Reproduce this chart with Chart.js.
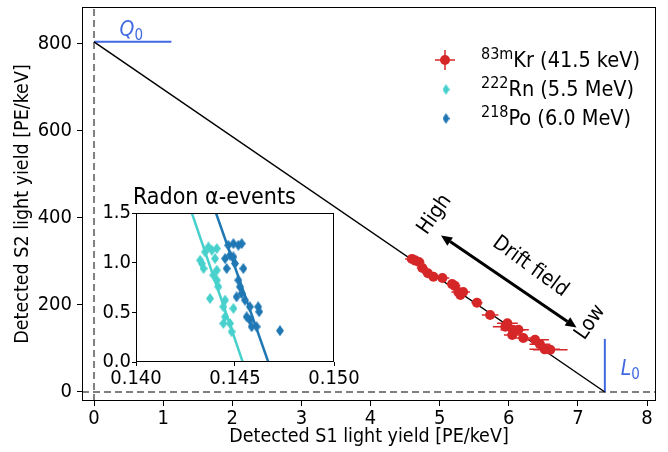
<!DOCTYPE html>
<html>
<head>
<meta charset="utf-8">
<script src="https://cdn.jsdelivr.net/npm/chart.js@4/dist/chart.umd.min.js"></script>
<style>
  body { margin: 0; background: #fff; }
  #wrap { position: relative; width: 668px; height: 452px; }
  canvas { position: absolute; }
</style>
</head>
<body>
<div id="wrap">
  <canvas id="main" width="668" height="452" style="left:0;top:0"></canvas>
  <canvas id="inset" width="290" height="210" style="left:90px;top:180px"></canvas>
</div>
<script>
// 83mKr points (S1, S2 light yield) with error bars
const krS1 = [4.60, 4.65, 4.70, 4.75, 4.83, 4.91, 5.04, 5.18, 5.22, 5.27, 5.30, 5.34, 5.54, 5.73, 5.95, 5.98, 6.06, 6.14, 6.05, 6.21, 6.38, 6.45, 6.52, 6.60];
const krS2 = [306, 302, 299, 285, 273, 265, 262, 248, 244, 230, 223, 230, 205, 177, 150, 158, 143, 143, 131, 124, 120, 110, 98, 97];
const krS1Err = [0.10, 0.12, 0.08, 0.08, 0.08, 0.08, 0.10, 0.08, 0.08, 0.10, 0.08, 0.10, 0.08, 0.12, 0.18, 0.15, 0.18, 0.15, 0.12, 0.12, 0.20, 0.15, 0.22, 0.25];
const krS2Err = [8, 8, 6, 6, 6, 6, 6, 6, 8, 8, 6, 6, 6, 6, 8, 8, 8, 8, 6, 6, 6, 8, 6, 6];

// radon alpha events (inset)
const rnS1 = [0.14324, 0.14341, 0.14349, 0.14366, 0.14383, 0.14408, 0.14399, 0.14408, 0.14391, 0.14408, 0.14416, 0.14374, 0.14450, 0.14441, 0.14492, 0.14450, 0.14441, 0.14475, 0.14483, 0.14333];
const rnS2 = [1.024, 0.941, 1.108, 1.158, 1.125, 1.142, 1.041, 0.924, 0.874, 0.824, 0.757, 0.639, 0.623, 0.556, 0.539, 0.455, 0.388, 0.388, 0.305, 0.990];
const poS1 = [0.14450, 0.14458, 0.14475, 0.14466, 0.14492, 0.14517, 0.14534, 0.14542, 0.14517, 0.14525, 0.14534, 0.14508, 0.14550, 0.14575, 0.14559, 0.14575, 0.14617, 0.14622, 0.14584, 0.14609, 0.14727, 0.14492, 0.14500];
const poS2 = [1.041, 0.941, 1.075, 1.175, 1.192, 1.175, 1.192, 0.941, 0.824, 0.757, 0.690, 0.656, 0.623, 0.556, 0.455, 0.422, 0.556, 0.506, 0.355, 0.355, 0.315, 1.058, 0.991];
const rnFitS1 = [0.14282, 0.14539];
const rnFitS2 = [1.5, 0];
const poFitS1 = [0.14404, 0.14668];
const poFitS2 = [1.5, 0];

// intercepts
const Q0 = 805;
const L0 = 7.39;

// ticks
const xTicks = [0, 1, 2, 3, 4, 5, 6, 7, 8];
const yTicks = [0, 200, 400, 600, 800];
const insetXTicks = [0.140, 0.145, 0.150];
const insetYTicks = [0.0, 0.5, 1.0, 1.5];

const FONT = "'DejaVu Sans Condensed', 'DejaVu Sans', sans-serif";
const RED = '#d62728';
const TURQ = '#48d1cc';
const PO_BLUE = '#1f77b4';
const ROYAL = '#4169e1';
const GREY = '#808080';

const pts = (xs, ys) => xs.map((v, i) => ({ x: v, y: ys[i] }));

function diamond(color, w, h) {
  const c = document.createElement('canvas');
  c.width = w; c.height = h;
  const g = c.getContext('2d');
  g.fillStyle = color;
  g.beginPath();
  g.moveTo(w / 2, 0); g.lineTo(w, h / 2); g.lineTo(w / 2, h); g.lineTo(0, h / 2);
  g.closePath(); g.fill();
  return c;
}

function axis(min, max, ticks, fmt, tickLen, pad) {
  return {
    type: 'linear', min, max,
    afterBuildTicks: s => { s.ticks = ticks.map(v => ({ value: v })); },
    ticks: { color: '#000', font: { family: FONT, size: 20 }, padding: pad, callback: fmt, maxRotation: 0 },
    grid: { drawOnChartArea: false, drawTicks: true, tickLength: tickLen, color: '#000', tickWidth: 1 },
    border: { display: false }
  };
}

// error bars for the Kr points
const errorBars = {
  id: 'errorBars',
  beforeDatasetDraw(chart, args) {
    const ds = chart.data.datasets[args.index];
    if (!ds.xErr) return;
    const { ctx, scales: { x, y } } = chart;
    ctx.save();
    ctx.strokeStyle = ds.borderColor;
    ctx.lineWidth = 1.5;
    ds.data.forEach((p, i) => {
      const px = x.getPixelForValue(p.x), py = y.getPixelForValue(p.y);
      ctx.beginPath();
      ctx.moveTo(x.getPixelForValue(p.x - ds.xErr[i]), py);
      ctx.lineTo(x.getPixelForValue(p.x + ds.xErr[i]), py);
      ctx.moveTo(px, y.getPixelForValue(p.y - ds.yErr[i]));
      ctx.lineTo(px, y.getPixelForValue(p.y + ds.yErr[i]));
      ctx.stroke();
    });
    ctx.restore();
  }
};

function frame(chart) {
  const { ctx, chartArea: a } = chart;
  ctx.save();
  ctx.strokeStyle = '#000';
  ctx.lineWidth = 1;
  ctx.strokeRect(a.left + 0.5, a.top + 0.5, a.right - a.left - 1, a.bottom - a.top - 1);
  ctx.restore();
}

function rotText(ctx, txt, x, y, deg, size) {
  ctx.save();
  ctx.translate(x, y);
  ctx.rotate(deg * Math.PI / 180);
  ctx.font = size + 'px ' + FONT;
  ctx.textAlign = 'center';
  ctx.textBaseline = 'middle';
  ctx.fillText(txt, 0, 0);
  ctx.restore();
}

function subSym(ctx, sym, x, y, color) {
  ctx.save();
  ctx.fillStyle = color;
  ctx.textBaseline = 'alphabetic';
  ctx.font = 'italic 21px ' + FONT;
  ctx.fillText(sym, x, y);
  const w = ctx.measureText(sym).width;
  ctx.font = '15px ' + FONT;
  ctx.fillText('0', x + w, y + 4);
  ctx.restore();
}

function supLabel(ctx, sup, main, x, y) {
  ctx.save();
  ctx.fillStyle = '#000';
  ctx.textBaseline = 'alphabetic';
  ctx.font = '16px ' + FONT;
  ctx.fillText(sup, x, y - 8);
  const w = ctx.measureText(sup).width;
  ctx.font = '21.5px ' + FONT;
  ctx.fillText(main, x + w, y);
  ctx.restore();
}

const annotations = {
  id: 'annotations',
  afterDraw(chart) {
    const { ctx, scales: { x, y } } = chart;
    frame(chart);

    // drift field arrow
    const ax1 = x.getPixelForValue(5.02), ay1 = y.getPixelForValue(360);
    const ax2 = x.getPixelForValue(6.98), ay2 = y.getPixelForValue(148);
    const ang = Math.atan2(ay2 - ay1, ax2 - ax1);
    const head = 11, hw = 5;
    ctx.save();
    ctx.strokeStyle = '#000';
    ctx.fillStyle = '#000';
    ctx.lineWidth = 3;
    ctx.beginPath();
    ctx.moveTo(ax1 + Math.cos(ang) * head, ay1 + Math.sin(ang) * head);
    ctx.lineTo(ax2 - Math.cos(ang) * head, ay2 - Math.sin(ang) * head);
    ctx.stroke();
    [[ax1, ay1, ang], [ax2, ay2, ang + Math.PI]].forEach(([tx, ty, a]) => {
      ctx.beginPath();
      ctx.moveTo(tx, ty);
      ctx.lineTo(tx + Math.cos(a) * head - Math.sin(a) * hw, ty + Math.sin(a) * head + Math.cos(a) * hw);
      ctx.lineTo(tx + Math.cos(a) * head + Math.sin(a) * hw, ty + Math.sin(a) * head - Math.cos(a) * hw);
      ctx.closePath();
      ctx.fill();
    });
    ctx.restore();

    ctx.fillStyle = '#000';
    rotText(ctx, 'High', x.getPixelForValue(4.93), y.getPixelForValue(408), -55, 21);
    rotText(ctx, 'Drift field', x.getPixelForValue(6.31), y.getPixelForValue(288), 36, 21);
    rotText(ctx, 'Low', x.getPixelForValue(7.18), y.getPixelForValue(160), -55, 21);

    // Q0 / L0 labels
    subSym(ctx, 'Q', x.getPixelForValue(0.37), y.getPixelForValue(818), ROYAL);
    subSym(ctx, 'L', x.getPixelForValue(7.62), y.getPixelForValue(39), ROYAL);

    // legend
    ctx.save();
    ctx.strokeStyle = RED;
    ctx.fillStyle = RED;
    ctx.lineWidth = 1.5;
    ctx.beginPath();
    ctx.moveTo(435, 60); ctx.lineTo(455, 60);
    ctx.moveTo(445, 50); ctx.lineTo(445, 70);
    ctx.stroke();
    ctx.beginPath();
    ctx.arc(445, 60, 5, 0, Math.PI * 2);
    ctx.fill();
    ctx.drawImage(diamond(TURQ, 7, 11), 442.5, 84);
    ctx.drawImage(diamond(PO_BLUE, 7, 11), 442.5, 113);
    ctx.restore();
    supLabel(ctx, '83m', 'Kr (41.5 keV)', 481, 67);
    supLabel(ctx, '222', 'Rn (5.5 MeV)', 481, 96);
    supLabel(ctx, '218', 'Po (6.0 MeV)', 481, 125);
  }
};

const whiteBg = {
  id: 'whiteBg',
  beforeDraw(chart) {
    const { ctx, chartArea: a } = chart;
    ctx.save();
    ctx.fillStyle = '#fff';
    if (chart.canvas.id === 'main') ctx.fillRect(0, 0, chart.width, chart.height);
    else ctx.fillRect(a.left, a.top, a.right - a.left, a.bottom - a.top);
    ctx.restore();
  }
};

const lineDs = (data, color, width, order, dash) => ({
  data, showLine: true, borderColor: color, borderWidth: width,
  pointRadius: 0, borderDash: dash || [], order, tension: 0
});

const mainX = axis(-0.174, 8.13, xTicks, v => String(v), 5, 1);
mainX.title = { display: true, text: 'Detected S1 light yield [PE/keV]', color: '#000', font: { family: FONT, size: 19.5 }, padding: { top: 0, bottom: 3 } };
mainX.afterFit = s => { s.height = 51; s.paddingLeft = 0; s.paddingRight = 0; };
const mainY = axis(-20.7, 885, yTicks, v => String(v), 5, 5);
mainY.title = { display: true, text: 'Detected S2 light yield [PE/keV]', color: '#000', font: { family: FONT, size: 19.5 }, padding: { top: 11, bottom: 0 } };
mainY.afterFit = s => { s.width = 82; s.paddingTop = 0; s.paddingBottom = 0; };

new Chart(document.getElementById('main'), {
  type: 'scatter',
  data: {
    datasets: [
      {
        data: pts(krS1, krS2), xErr: krS1Err, yErr: krS2Err,
        backgroundColor: RED, borderColor: RED, pointRadius: 5, pointBorderWidth: 0, order: 0
      },
      lineDs([{ x: 0, y: Q0 }, { x: L0, y: 0 }], '#000', 1.5, 1),
      lineDs([{ x: 0, y: Q0 }, { x: 1.12, y: Q0 }], ROYAL, 2, 2),
      lineDs([{ x: L0, y: 0 }, { x: L0, y: 122 }], ROYAL, 2, 2),
      lineDs([{ x: 0, y: -20.7 }, { x: 0, y: 885 }], GREY, 2, 3, [7, 4]),
      lineDs([{ x: -0.174, y: 0 }, { x: 8.13, y: 0 }], GREY, 2, 3, [7, 4])
    ]
  },
  options: {
    responsive: false,
    animation: false,
    layout: { padding: { top: 7, right: 12, left: 0, bottom: 0 } },
    plugins: { legend: { display: false }, tooltip: { enabled: false } },
    scales: { x: mainX, y: mainY }
  },
  plugins: [whiteBg, errorBars, annotations]
});

// inset: radon alpha events
const insetExtras = {
  id: 'insetExtras',
  afterDraw(chart) {
    const { ctx, chartArea: a } = chart;
    frame(chart);
    ctx.save();
    ctx.fillStyle = '#000';
    ctx.font = '23px ' + FONT;
    ctx.textBaseline = 'alphabetic';
    ctx.fillText('Radon α-events', a.left - 3, a.top - 9);
    ctx.restore();
  }
};

const insetX = axis(0.140, 0.150, insetXTicks, v => v.toFixed(3), 4, 1);
insetX.afterFit = s => { s.height = 28; s.paddingLeft = 0; s.paddingRight = 0; };
const insetY = axis(0, 1.5, insetYTicks, v => v.toFixed(1), 4, 1);
insetY.afterFit = s => { s.width = 46; s.paddingTop = 0; s.paddingBottom = 0; };

new Chart(document.getElementById('inset'), {
  type: 'scatter',
  data: {
    datasets: [
      { data: pts(rnS1, rnS2), pointStyle: diamond(TURQ, 8, 11), pointRadius: 4, order: 1 },
      { data: pts(poS1, poS2), pointStyle: diamond(PO_BLUE, 8, 11), pointRadius: 4, order: 0 },
      lineDs(pts(rnFitS1, rnFitS2), TURQ, 2.5, 2),
      lineDs(pts(poFitS1, poFitS2), PO_BLUE, 2.5, 2)
    ]
  },
  options: {
    responsive: false,
    animation: false,
    layout: { padding: { top: 33, right: 46, left: 0, bottom: 0 } },
    plugins: { legend: { display: false }, tooltip: { enabled: false } },
    scales: { x: insetX, y: insetY }
  },
  plugins: [whiteBg, insetExtras]
});
</script>
</body>
</html>
